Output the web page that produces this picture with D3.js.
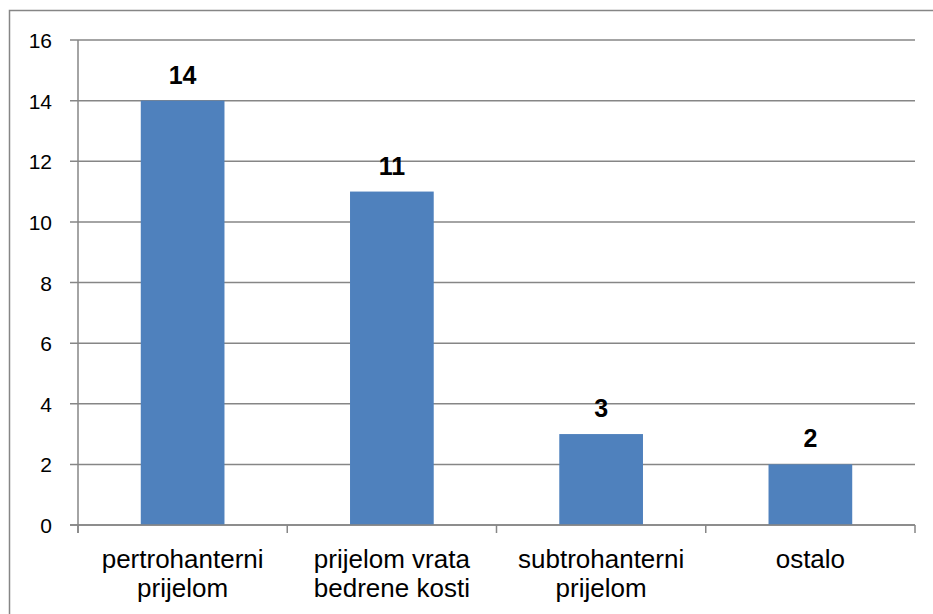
<!DOCTYPE html>
<html>
<head>
<meta charset="utf-8">
<script src="https://cdn.jsdelivr.net/npm/d3@7"></script>
<style>
  body { margin: 0; background: #fff; }
  svg { display: block; }
</style>
</head>
<body>
<svg width="933" height="614"></svg>
<script>
const categories = [
  ['pertrohanterni', 'prijelom'],
  ['prijelom vrata', 'bedrene kosti'],
  ['subtrohanterni', 'prijelom'],
  ['ostalo']
]
const values = [14, 11, 3, 2]
const yTicks = [0, 2, 4, 6, 8, 10, 12, 14, 16]

const svg = d3.select('svg')
const gray = '#868686'

// chart frame
svg.append('rect')
  .attr('x', 9.5)
  .attr('y', 10.5)
  .attr('width', 940)
  .attr('height', 620)
  .attr('fill', 'none')
  .attr('stroke', gray)
  .attr('stroke-width', 1.5)

const plotLeft = 78, plotRight = 915, plotTop = 40, plotBottom = 525

const x = d3.scaleBand()
  .domain(d3.range(categories.length))
  .range([plotLeft, plotRight])
  .paddingInner(0.6)
  .paddingOuter(0.3)

const y = d3.scaleLinear()
  .domain([0, 16])
  .range([plotBottom, plotTop])

// gridlines
svg.append('g')
  .selectAll('line')
  .data(yTicks)
  .join('line')
  .attr('x1', plotLeft - 8)
  .attr('x2', plotRight)
  .attr('y1', d => y(d))
  .attr('y2', d => y(d))
  .attr('stroke', gray)
  .attr('stroke-width', 1.5)

// y axis labels
const yAxis = svg.append('g')
  .attr('transform', `translate(${plotLeft},0)`)
  .call(d3.axisLeft(y).tickValues(yTicks).tickSize(8).tickPadding(18))
yAxis.select('.domain').remove()
yAxis.selectAll('line').remove()
yAxis.selectAll('text')
  .attr('font-family', 'Liberation Sans, Arial, sans-serif')
  .attr('font-size', 21)
  .attr('fill', '#000')
  .attr('dy', '0.36em')

// bars
svg.append('g')
  .selectAll('rect')
  .data(values)
  .join('rect')
  .attr('x', (d, i) => x(i))
  .attr('y', d => y(d))
  .attr('width', x.bandwidth())
  .attr('height', d => y(0) - y(d))
  .attr('fill', '#4F81BD')

// value labels
svg.append('g')
  .selectAll('text')
  .data(values)
  .join('text')
  .attr('x', (d, i) => x(i) + x.bandwidth() / 2)
  .attr('y', d => y(d) - 17)
  .attr('text-anchor', 'middle')
  .attr('font-family', 'Liberation Sans, Arial, sans-serif')
  .attr('font-weight', 'bold')
  .attr('font-size', 25)
  .text(d => d)

// axes lines
svg.append('line')
  .attr('x1', plotLeft).attr('x2', plotLeft)
  .attr('y1', plotTop).attr('y2', plotBottom + 8)
  .attr('stroke', gray).attr('stroke-width', 1.5)

svg.append('line')
  .attr('x1', plotLeft - 8).attr('x2', plotRight)
  .attr('y1', plotBottom).attr('y2', plotBottom)
  .attr('stroke', gray).attr('stroke-width', 1.5)

// x ticks at category boundaries
svg.append('g')
  .selectAll('line')
  .data(d3.range(categories.length + 1))
  .join('line')
  .attr('x1', i => plotLeft + i * x.step())
  .attr('x2', i => plotLeft + i * x.step())
  .attr('y1', plotBottom)
  .attr('y2', plotBottom + 8)
  .attr('stroke', gray)
  .attr('stroke-width', 1.5)

// category labels
const catLabels = svg.append('g')
  .selectAll('text')
  .data(categories)
  .join('text')
  .attr('text-anchor', 'middle')
  .attr('font-family', 'Liberation Sans, Arial, sans-serif')
  .attr('font-size', 26)
  .attr('fill', '#000')

catLabels.selectAll('tspan')
  .data((d, i) => d.map(t => ({ t, i })))
  .join('tspan')
  .attr('x', d => x(d.i) + x.bandwidth() / 2)
  .attr('y', (d, j) => 568 + j * 29)
  .text(d => d.t)
</script>
</body>
</html>
